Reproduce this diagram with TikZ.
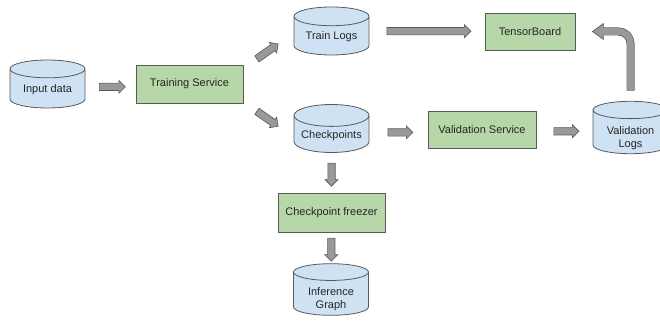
\documentclass[tikz,border=0pt]{standalone}
\usepackage{fontspec}
\setmainfont{Liberation Sans}
\usetikzlibrary{shapes.geometric,shapes.arrows}

\definecolor{boxgreen}{HTML}{B6D7A8}
\definecolor{cylblue}{HTML}{CFE2F3}
\definecolor{edgegray}{HTML}{595959}
\definecolor{arrowgray}{HTML}{999999}

\newcommand{\twolines}[2]{\raisebox{-5pt}[\height][\depth]{\begin{tabular}{@{}c@{}}#1\\#2\end{tabular}}}

\tikzset{
  service/.style={draw=edgegray, fill=boxgreen, line width=0.8pt,
    minimum height=38pt, font=\fontsize{11}{13}\selectfont, text=black!85},
  store/.style={cylinder, shape border rotate=90, aspect=0.35, draw=edgegray,
    fill=cylblue, line width=0.8pt, minimum width=75pt, minimum height=48pt,
    inner sep=1pt, anchor=shape center,
    align=center, font=\fontsize{11}{13}\selectfont, text=black!85},
  barrow/.style={single arrow, draw=edgegray, fill=arrowgray, line width=0.6pt,
    minimum height=#1, minimum width=0pt, inner xsep=0pt, inner ysep=3.4pt,
    single arrow head extend=2.8pt, single arrow tip angle=90}
}

\begin{document}
\begin{tikzpicture}[x=1pt, y=1pt]
  \useasboundingbox (0,0) rectangle (660,323);

  % data stores
  \node[store] (input) at (47.5,239) {Input data};
  \node[store] (trainlogs) at (331.5,292) {Train Logs};
  \node[store] (ckpt) at (331.5,194.5) {Checkpoints};
  \node[store] (vlogs) at (630.5,195.5) {\twolines{Validation}{Logs}};
  \node[store] (inference) at (331,33.5) {\twolines{Inference}{Graph}};

  % services
  \node[service, minimum width=107pt] (training) at (189.5,239) {Training Service};
  \node[service, minimum width=90pt, minimum height=37pt] (tboard) at (530,291.5) {TensorBoard};
  \node[service, minimum width=108pt, minimum height=37pt] (validation) at (482,193.5) {Validation Service};
  \node[service, minimum width=107pt, minimum height=39pt] (freezer) at (331.5,110.5) {Checkpoint freezer};

  % block arrows
  \path (input.east) -- (training.west) node[midway, barrow=26pt] {};
  \path (training.north east) -- (trainlogs.west) node[midway, barrow=26pt, rotate=35, xshift=-3pt] {};
  \path (training.south east) -- (ckpt.west) node[midway, barrow=26pt, rotate=-35, xshift=-3pt] {};
  \path (trainlogs.east) -- (tboard.west) node[midway, barrow=84pt, yshift=3pt] {};
  \path (ckpt.east) -- (validation.west) node[midway, barrow=25pt] {};
  \path (validation.east) -- (vlogs.west) node[midway, barrow=25pt] {};
  \path (ckpt.south) -- (freezer.north) node[midway, barrow=23pt, rotate=-90] {};
  \path (freezer.south) -- (inference.north) node[midway, barrow=23pt, rotate=-90] {};

  % bent arrow from validation logs to TensorBoard
  \coordinate (bendstart) at ([yshift=11pt]vlogs.north);
  \coordinate (bendend) at ([xshift=28pt]tboard.east);
  \draw[edgegray, line width=8pt, rounded corners=12pt]
    ([yshift=-0.7pt]bendstart) |- (bendend);
  \draw[arrowgray, line width=6.6pt, rounded corners=12pt]
    (bendstart) |- ([xshift=-1pt]bendend);
  \fill[arrowgray] ([yshift=8pt]bendend) -- ([xshift=-11pt]bendend)
    -- ([yshift=-8pt]bendend) -- cycle;
  \draw[edgegray, line width=0.6pt, line join=round]
    ([yshift=3.3pt]bendend) -- ([yshift=8pt]bendend) -- ([xshift=-11pt]bendend)
    -- ([yshift=-8pt]bendend) -- ([yshift=-3.3pt]bendend);
\end{tikzpicture}
\end{document}
